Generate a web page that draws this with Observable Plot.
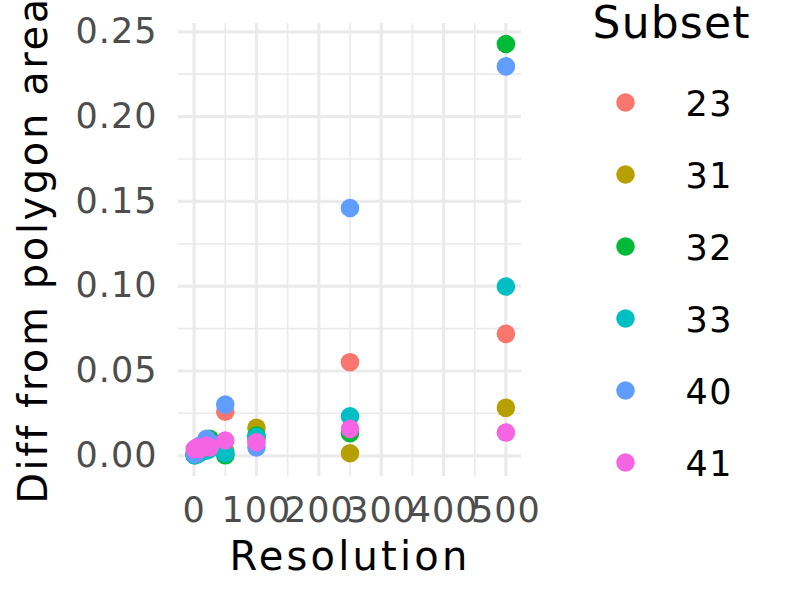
<!DOCTYPE html>
<html>
<head>
<meta charset="utf-8">
<script src="https://cdn.jsdelivr.net/npm/d3@7"></script>
<script src="https://cdn.jsdelivr.net/npm/@observablehq/plot@0.6"></script>
<style>
  html, body { margin: 0; padding: 0; background: #fff; }
  #wrap { position: relative; width: 792px; height: 606px; }
  #wrap svg { position: absolute; left: 0; top: 0; }
</style>
</head>
<body>
<div id="wrap"></div>
<script>
// ---- data ----
const subsets = ["23", "31", "32", "33", "40", "41"];
const colors = ["#F8766D", "#B79F00", "#00BA38", "#00BFC4", "#619CFF", "#F564E3"];
const resolution = [1, 5, 10, 20, 25, 50, 100, 250, 500];
const diff23 = [0.0005, 0.001, 0.002, 0.004, 0.005, 0.026, 0.010, 0.0552, 0.0719];
const diff31 = [0.0005, 0.001, 0.002, 0.005, 0.007, 0.003, 0.0165, 0.0015, 0.0283];
const diff32 = [0.0005, 0.002, 0.004, 0.008, 0.010, 0.0003, 0.012, 0.0133, 0.2428];
const diff33 = [0.0003, 0.001, 0.002, 0.003, 0.004, 0.0015, 0.011, 0.0233, 0.0998];
const diff40 = [0.001, 0.003, 0.006, 0.010, 0.008, 0.0302, 0.005, 0.1461, 0.2296];
const diff41 = [0.004, 0.005, 0.004, 0.006, 0.005, 0.009, 0.008, 0.0159, 0.0137];
const xMajor = [0, 100, 200, 300, 400, 500];
const xMinor = [50, 150, 250, 350, 450];
const yMajor = [0, 0.05, 0.10, 0.15, 0.20, 0.25];
const yMinor = [0.025, 0.075, 0.125, 0.175, 0.225];
const xTitle = "Resolution";
const yTitle = "Diff from polygon area";
const legendTitle = "Subset";

const series = [diff23, diff31, diff32, diff33, diff40, diff41];
const rows = [];
subsets.forEach((s, i) => {
  resolution.forEach((r, j) => rows.push({subset: s, resolution: r, diff: series[i][j]}));
});

const font = "DejaVu Sans";
const main = Plot.plot({
  width: 792, height: 606,
  marginLeft: 178, marginRight: 271, marginTop: 23, marginBottom: 130,
  style: {fontFamily: font, background: "white", overflow: "visible"},
  x: {domain: [-25, 525]},
  y: {domain: [-0.0122, 0.2549]},
  color: {domain: subsets, range: colors},
  marks: [
    Plot.ruleX(xMinor, {stroke: "#ebebeb", strokeWidth: 1.7}),
    Plot.ruleY(yMinor, {stroke: "#ebebeb", strokeWidth: 1.7}),
    Plot.ruleX(xMajor, {stroke: "#ebebeb", strokeWidth: 3.2}),
    Plot.ruleY(yMajor, {stroke: "#ebebeb", strokeWidth: 3.2}),
    Plot.axisX(xMajor, {tickSize: 0, tickPadding: 21, fontSize: 35, fill: "#4d4d4d", label: null}),
    Plot.axisY(yMajor, {tickSize: 0, tickPadding: 21, fontSize: 35, fill: "#4d4d4d", label: null, tickFormat: d3.format(".2f")}),
    Plot.dot(rows, {x: "resolution", y: "diff", fill: "subset", r: 9.3}),
    Plot.text([xTitle], {frameAnchor: "bottom", lineAnchor: "bottom", textAnchor: "middle", dy: 93, fontSize: 40, fill: "#000"}),
    Plot.text([yTitle], {frameAnchor: "left", rotate: -90, textAnchor: "middle", lineAnchor: "middle", dx: -144, fontSize: 40, fill: "#000"})
  ]
});

const legend = Plot.plot({
  width: 792, height: 606, margin: 0,
  style: {fontFamily: font, background: "transparent"},
  x: {type: "point", domain: ["dot", "label"], range: [625, 685], padding: 0, axis: null},
  y: {type: "point", domain: subsets, range: [101.7, 461.7], padding: 0, axis: null},
  color: {domain: subsets, range: colors},
  marks: [
    Plot.dot(subsets, {x: () => "dot", y: d => d, fill: d => d, r: 9.3}),
    Plot.text(subsets, {x: () => "label", y: d => d, text: d => d, textAnchor: "start", fontSize: 35, dy: 2, fill: "#000"}),
    Plot.text([legendTitle], {frameAnchor: "top-left", dx: 592, dy: 6, lineAnchor: "top", textAnchor: "start", fontSize: 44, fill: "#000"})
  ]
});

// letter spacing to match the reference's wider text
d3.select(main).selectAll("text").each(function() {
  const t = this.textContent;
  const ls = t === xTitle ? 3.2 : t === yTitle ? 2.6 : 1;
  this.style.letterSpacing = ls + "px";
});
d3.select(legend).selectAll("text").each(function() {
  const t = this.textContent;
  this.style.letterSpacing = (t === legendTitle ? 1.2 : 1.5) + "px";
});

const wrap = document.getElementById("wrap");
wrap.appendChild(main);
wrap.appendChild(legend);
</script>
</body>
</html>
